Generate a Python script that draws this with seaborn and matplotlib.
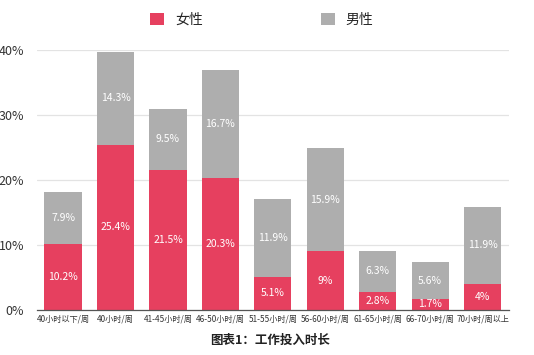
import matplotlib
matplotlib.use("Agg")
import matplotlib.pyplot as plt
import seaborn as sns
import pandas as pd
from matplotlib.patches import Patch

categories = ["40小时以下/周", "40小时/周", "41-45小时/周", "46-50小时/周", "51-55小时/周",
              "56-60小时/周", "61-65小时/周", "66-70小时/周", "70小时/周以上"]
female = [10.2, 25.4, 21.5, 20.3, 5.1, 9, 2.8, 1.7, 4]
male = [7.9, 14.3, 9.5, 16.7, 11.9, 15.9, 6.3, 5.6, 11.9]
female_labels = ["10.2%", "25.4%", "21.5%", "20.3%", "5.1%", "9%", "2.8%", "1.7%", "4%"]
male_labels = ["7.9%", "14.3%", "9.5%", "16.7%", "11.9%", "15.9%", "6.3%", "5.6%", "11.9%"]
yticks = [0, 10, 20, 30, 40]
ytick_labels = ["0%", "10%", "20%", "30%", "40%"]

sns.set_theme(style="white")
plt.rcParams['font.family'] = ['Noto Sans CJK SC', 'DejaVu Sans']

RED = "#E6405F"
GREY = "#AEAEAE"

df = pd.DataFrame({"cat": categories, "female": female, "male": male})
df["total"] = df["female"] + df["male"]

fig = plt.figure(figsize=(5.34, 3.55), dpi=100)
ax = fig.add_axes([0.069, 0.127, 0.884, 0.732])

sns.barplot(data=df, x="cat", y="total", color=GREY, width=0.71, saturation=1, ax=ax,
            zorder=3, linewidth=0)
sns.barplot(data=df, x="cat", y="female", color=RED, width=0.71, saturation=1, ax=ax,
            zorder=4, linewidth=0)

ax.set_ylim(0, 40)
ax.set_xlim(-0.5, len(categories) - 0.5)
ax.set_yticks(yticks)
ax.set_yticklabels(ytick_labels, fontsize=9, color="#333333")
ax.set_xlabel("")
ax.set_ylabel("")
ax.tick_params(axis="x", labelsize=5.9, colors="#333333", length=0, pad=3)
ax.tick_params(axis="y", length=0, pad=9)
ax.grid(axis="y", color="#E3E3E3", linewidth=0.9, zorder=0)
for s in ["top", "right", "left"]:
    ax.spines[s].set_visible(False)
ax.spines["bottom"].set_color("#555555")
ax.spines["bottom"].set_linewidth(0.9)
ax.spines["bottom"].set_zorder(5)

for i in range(len(categories)):
    ax.text(i, female[i] / 2, female_labels[i], ha="center", va="center",
            color="white", fontsize=7.5, zorder=6)
    ax.text(i, female[i] + male[i] / 2, male_labels[i], ha="center", va="center",
            color="white", fontsize=7.5, zorder=6)

handles = [Patch(facecolor=RED, edgecolor="none"), Patch(facecolor=GREY, edgecolor="none")]
fig.legend(handles, ["女性", "男性"], loc="center", bbox_to_anchor=(0.49, 0.945),
           ncol=2, frameon=False, fontsize=10, handlelength=1.0, handleheight=1.0,
           columnspacing=8.5, handletextpad=0.8)

fig.text(0.505, 0.04, "图表1：工作投入时长", ha="center", va="center",
         fontsize=9, fontweight="bold", color="#222222")

fig.savefig("out.png", dpi=100)
